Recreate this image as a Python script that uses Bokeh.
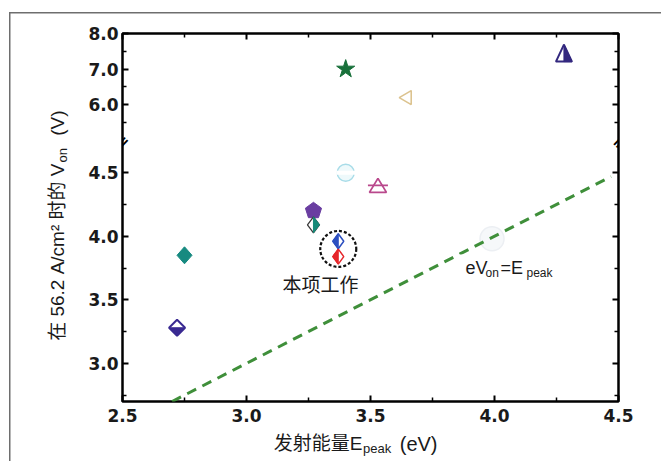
import math
from bokeh.plotting import figure
from bokeh.layouts import column, row
from bokeh.models import (Range1d, LinearAxis, FixedTicker, CustomJSTickFormatter,
                          Label, BoxAnnotation)
from bokeh.embed import file_html
from bokeh.resources import INLINE

# ---------------- data ----------------
x_major_ticks = [2.5, 3.0, 3.5, 4.0, 4.5]
x_minor_ticks = [2.75, 3.25, 3.75, 4.25]
y_low_major = [3.0, 3.5, 4.0, 4.5]
y_low_minor = [2.75, 3.25, 3.75, 4.25]
y_high_major = [6.0, 7.0, 8.0]
y_high_minor = [5.5, 6.5, 7.5]

# points in the lower (2.7 - 4.74 V) part of the broken axis
# 0 teal diamond, 1 navy half diamond, 2 purple pentagon, 3 teal half diamond,
# 4 this work (blue), 5 this work (red), 6 faint cyan circle, 7 pink triangle, 8 faint grey circle
low_epeak = [2.75, 2.72, 3.27, 3.27, 3.37, 3.37, 3.40, 3.53, 3.99]
low_von = [3.85, 3.28, 4.20, 4.09, 3.96, 3.84, 4.50, 4.40, 3.98]
# points in the upper (4.95 - 8.0 V) part
# 0 green star, 1 faint tan left triangle, 2 navy half triangle
high_epeak = [3.40, 3.64, 4.28]
high_von = [7.00, 6.20, 7.45]
# eV_on = E_peak reference line
line_epeak = [2.7, 4.47]
line_von = [2.7, 4.47]

# ---------------- geometry (page pixels) ----------------
PW, PH = 661, 461
TOP_H = 18            # strip above the main figure
LEFT_W = 80           # strip left of the main figure
BOT_H = 32            # strip below the main figure
MW, MH = PW - LEFT_W, PH - TOP_H - BOT_H
FRAME_L, FRAME_T = 122, 33
FW, FH = 496, 368
BL = FRAME_L - LEFT_W
BT = FRAME_T - TOP_H
BR = MW - BL - FW
BB = MH - BT - FH

X0, X1 = 2.5, 4.5
Y0, YB_LO, YB_HI, Y1 = 2.7, 4.74, 4.95, 8.0
RATIO = 0.2802                      # compression of the upper segment
U1 = YB_LO + (Y1 - YB_HI) * RATIO   # top of plot in lower-segment units
UP_START = Y1 - (U1 - Y0) / RATIO
KX = (X1 - X0) / FW
KY = (U1 - Y0) / FH
KY_HI = KY / RATIO


def u_of(v):
    return YB_LO + (v - YB_HI) * RATIO


def px2x(px):
    return X0 + (px - FRAME_L) * KX


def py2u(py):
    return U1 - (py - FRAME_T) * KY


TF = "Liberation Sans, Noto Sans CJK SC"
TXT = "#1a1a1a"
FRAME_GREY = "#6e6e6e"


def strip(w, x0, y_top, y_bottom, h):
    f = figure(width=w, height=h, x_range=Range1d(x0, x0 + w), y_range=Range1d(y_bottom, y_top),
               output_backend="svg", toolbar_location=None, title=None,
               x_axis_location=None, y_axis_location=None,
               min_border=0, min_border_left=0, min_border_right=0,
               min_border_top=0, min_border_bottom=0)
    f.grid.visible = False
    f.outline_line_color = None
    f.background_fill_alpha = 0
    f.border_fill_alpha = 0
    return f


# ---------------- main figure ----------------
p = figure(width=MW, height=MH, x_range=Range1d(X0, X1), y_range=Range1d(Y0, U1),
           output_backend="svg", toolbar_location=None, title=None,
           x_axis_location=None, y_axis_location=None,
           min_border_left=BL, min_border_right=BR, min_border_top=BT, min_border_bottom=BB)
p.extra_y_ranges = {"upper": Range1d(UP_START, Y1)}
p.grid.visible = False
p.outline_line_color = "black"
p.outline_line_width = 2.5
p.background_fill_color = "white"
p.border_fill_color = "white"

xt = FixedTicker(ticks=x_major_ticks, minor_ticks=x_minor_ticks)
yt = FixedTicker(ticks=y_low_major + [u_of(v) for v in y_high_major],
                 minor_ticks=y_low_minor + [u_of(v) for v in y_high_minor])
xfmt = CustomJSTickFormatter(code="return tick.toFixed(1);")
yfmt = CustomJSTickFormatter(args=dict(b=YB_LO, h=YB_HI, r=RATIO),
                             code="var v = tick <= b + 1e-6 ? tick : h + (tick - b) / r; return v.toFixed(1);")
blank = CustomJSTickFormatter(code="return '';")


def style_axis(ax, labels=True):
    ax.axis_line_color = None
    ax.major_tick_in = 6
    ax.major_tick_out = 0
    ax.minor_tick_in = 4
    ax.minor_tick_out = 0
    ax.major_tick_line_width = 2
    ax.minor_tick_line_width = 1.5
    ax.major_tick_line_color = "black"
    ax.minor_tick_line_color = "black"
    ax.major_label_text_font = "DejaVu Sans"
    ax.major_label_text_font_style = "bold"
    ax.major_label_text_font_size = "17px"
    ax.major_label_text_color = TXT
    if not labels:
        ax.major_label_text_font_size = "0px"


bottom = LinearAxis(ticker=xt, formatter=xfmt)
style_axis(bottom)
bottom.major_label_standoff = 7
top = LinearAxis(ticker=xt, formatter=blank)
style_axis(top, labels=False)
left = LinearAxis(ticker=yt, formatter=yfmt)
style_axis(left)
left.major_label_standoff = 4
right = LinearAxis(ticker=yt, formatter=blank)
style_axis(right, labels=False)
p.add_layout(bottom, "below")
p.add_layout(top, "above")
p.add_layout(left, "left")
p.add_layout(right, "right")


# ---------------- marker shapes (pixel offsets, y up) ----------------
def diamond(a, b):
    return [(0, b), (a, 0), (0, -b), (-a, 0)]


def diamond_left(a, b):
    return [(0, b), (-a, 0), (0, -b)]


def diamond_right(a, b):
    return [(0, b), (a, 0), (0, -b)]


def diamond_bottom(a, b):
    return [(-a, 0), (a, 0), (0, -b)]


def tri(a, b):
    return [(-a, -b), (a, -b), (0, b)]


def tri_right(a, b):
    return [(0, -b), (a, -b), (0, b)]


def tri_left_pointing(a, b):
    return [(-a, 0), (a, b), (a, -b)]


def pentagon(r):
    return [(r * math.sin(2 * math.pi * k / 5), r * math.cos(2 * math.pi * k / 5)) for k in range(5)]


def draw(cx, cy, pts, upper=False, **kw):
    ky = KY_HI if upper else KY
    xs = [cx + dx * KX for dx, dy in pts]
    ys = [cy + dy * ky for dx, dy in pts]
    p.patch(xs, ys, y_range_name="upper" if upper else "default", **kw)


# faint background markers
p.scatter([low_epeak[8]], [low_von[8]], marker="circle", size=24,
          fill_color="#f6f8fa", line_color="#eceff3", line_width=1.5)
p.scatter([low_epeak[6]], [low_von[6]], marker="circle", size=17,
          fill_color="#eef9fb", line_color="#a8dce8", line_width=1.5)
p.scatter([low_epeak[6]], [low_von[6]], marker="dash", size=19,
          line_color="white", line_width=4)

# eV_on = E_peak line
p.line(line_epeak, line_von, line_color="#3f8f3a", line_width=3, line_dash="10 7")

# teal filled diamond
draw(low_epeak[0], low_von[0], diamond(7.5, 8.5), fill_color="#178a80", line_color="#178a80", line_width=1)
# navy diamond, bottom half filled
draw(low_epeak[1], low_von[1], diamond(8, 8), fill_color="white", line_color="#3a2a92", line_width=2)
draw(low_epeak[1], low_von[1], diamond_bottom(8, 8), fill_color="#3a2a92", line_color="#3a2a92", line_width=1)
# purple pentagon
draw(low_epeak[2], low_von[2], pentagon(8.5), fill_color="#6a3ea1", line_color="#6a3ea1", line_width=1)
# diamond: left white, right teal
draw(low_epeak[3], low_von[3], diamond(6, 8), fill_color="white", line_color="#3a3a3a", line_width=1.3)
draw(low_epeak[3], low_von[3], diamond_right(6, 8), fill_color="#168a78", line_color="#168a78", line_width=1)
# this work: blue and red half diamonds
draw(low_epeak[4], low_von[4], diamond(5.5, 7.5), fill_color="white", line_color="#2c4fc0", line_width=1.5)
draw(low_epeak[4], low_von[4], diamond_left(5.5, 7.5), fill_color="#2c4fc0", line_color="#2c4fc0", line_width=1)
draw(low_epeak[5], low_von[5], diamond(5.5, 7.5), fill_color="white", line_color="#e6262b", line_width=1.5)
draw(low_epeak[5], low_von[5], diamond_left(5.5, 7.5), fill_color="#e6262b", line_color="#e6262b", line_width=1)
# dashed circle around this work
p.scatter([sum(low_epeak[4:6]) / 2], [sum(low_von[4:6]) / 2], marker="circle", size=36,
          fill_color=None, line_color="#111111", line_width=2.2, line_dash="3 2")
# pink open triangle with bar
draw(low_epeak[7], low_von[7], tri(8.5, 7), fill_color="white", line_color="#b9488c", line_width=1.8)
p.scatter([low_epeak[7]], [low_von[7]], marker="dash", size=20, line_color="#b9488c", line_width=1.8)

# upper segment
p.scatter([high_epeak[0]], [high_von[0]], marker="star", size=19, y_range_name="upper",
          fill_color="#18703a", line_color="#18703a")
draw(high_epeak[1], high_von[1], tri_left_pointing(6, 7), upper=True,
     fill_color=None, line_color="#dcc38f", line_width=1.6)
draw(high_epeak[2], high_von[2], tri(8, 8.5), upper=True, fill_color="white", line_color="#33287f", line_width=2)
draw(high_epeak[2], high_von[2], tri_right(8, 8.5), upper=True, fill_color="#33287f", line_color="#33287f", line_width=1)

# axis break marks
for xb in (X0, X1):
    p.add_layout(Label(x=xb, y=YB_LO, text="=", angle=0.8, text_align="center", text_baseline="middle",
                       text_font="DejaVu Sans", text_font_style="bold", text_font_size="16px",
                       text_color="black"))

# "本项工作"
p.add_layout(BoxAnnotation(left=px2x(268), right=px2x(370), top=py2u(271), bottom=py2u(296),
                           fill_color="white", fill_alpha=1, line_color=None))
p.add_layout(Label(x=px2x(320), y=py2u(283), text="本项工作", text_align="center", text_baseline="middle",
                   text_font="Noto Sans CJK SC", text_font_size="19px", text_color=TXT))

# eV_on = E_peak
p.add_layout(BoxAnnotation(left=px2x(455), right=px2x(578), top=py2u(254), bottom=py2u(282),
                           fill_color="white", fill_alpha=1, line_color=None))
for txt, px, py, fs in [("eV", 465, 267, "18px"), ("on", 485, 272, "12px"),
                        ("=E", 500, 267, "18px"), ("peak", 526, 272, "12px")]:
    p.add_layout(Label(x=px2x(px), y=py2u(py), text=txt, text_align="left", text_baseline="middle",
                       text_font=TF, text_font_size=fs, text_color=TXT))

# ---------------- surrounding strips (coordinates = page pixels) ----------------
top_strip = strip(PW, 0, 0, TOP_H, TOP_H)

# the left strip's frame is aligned with the main frame (page y 33 .. 401)
left_strip = strip(LEFT_W, 0, FRAME_T, FRAME_T + FH, MH)
# y-axis title: 在 56.2 A/cm² 时的 V_on (V)
left_strip.add_layout(Label(x=57, y=163, text="在 56.2 A/cm² 时的 V", angle=math.pi / 2,
                            text_align="right", text_baseline="middle",
                            text_font=TF, text_font_size="19px", text_color=TXT))
left_strip.add_layout(Label(x=62, y=162, text="on", angle=math.pi / 2,
                            text_align="left", text_baseline="middle",
                            text_font=TF, text_font_size="13px", text_color=TXT))
left_strip.add_layout(Label(x=57, y=110, text="(V)", angle=math.pi / 2,
                            text_align="right", text_baseline="middle",
                            text_font=TF, text_font_size="19px", text_color=TXT))

bottom_strip = strip(PW, 0, TOP_H + MH, PH, BOT_H)
# x-axis title: 发射能量E_peak (eV)
bottom_strip.add_layout(Label(x=362, y=443, text="发射能量E", text_align="right", text_baseline="middle",
                              text_font=TF, text_font_size="19px", text_color=TXT))
bottom_strip.add_layout(Label(x=362.5, y=448, text="peak", text_align="left", text_baseline="middle",
                              text_font=TF, text_font_size="13px", text_color=TXT))
bottom_strip.add_layout(Label(x=437, y=443, text="(eV)", text_align="right", text_baseline="middle",
                              text_font=TF, text_font_size="20px", text_color=TXT))

# grey photo frame (top and left edges) painted behind the transparent strips
frame_bg = ("linear-gradient(%s, %s) 9px 12px / 1.5px 100%% no-repeat, "
            "linear-gradient(%s, %s) 9px 12px / 100%% 1.5px no-repeat, white") % ((FRAME_GREY,) * 4)
layout = column(top_strip, row(left_strip, p), bottom_strip, styles={"background": frame_bg})
open("out.html", "w").write(file_html(layout, INLINE))
